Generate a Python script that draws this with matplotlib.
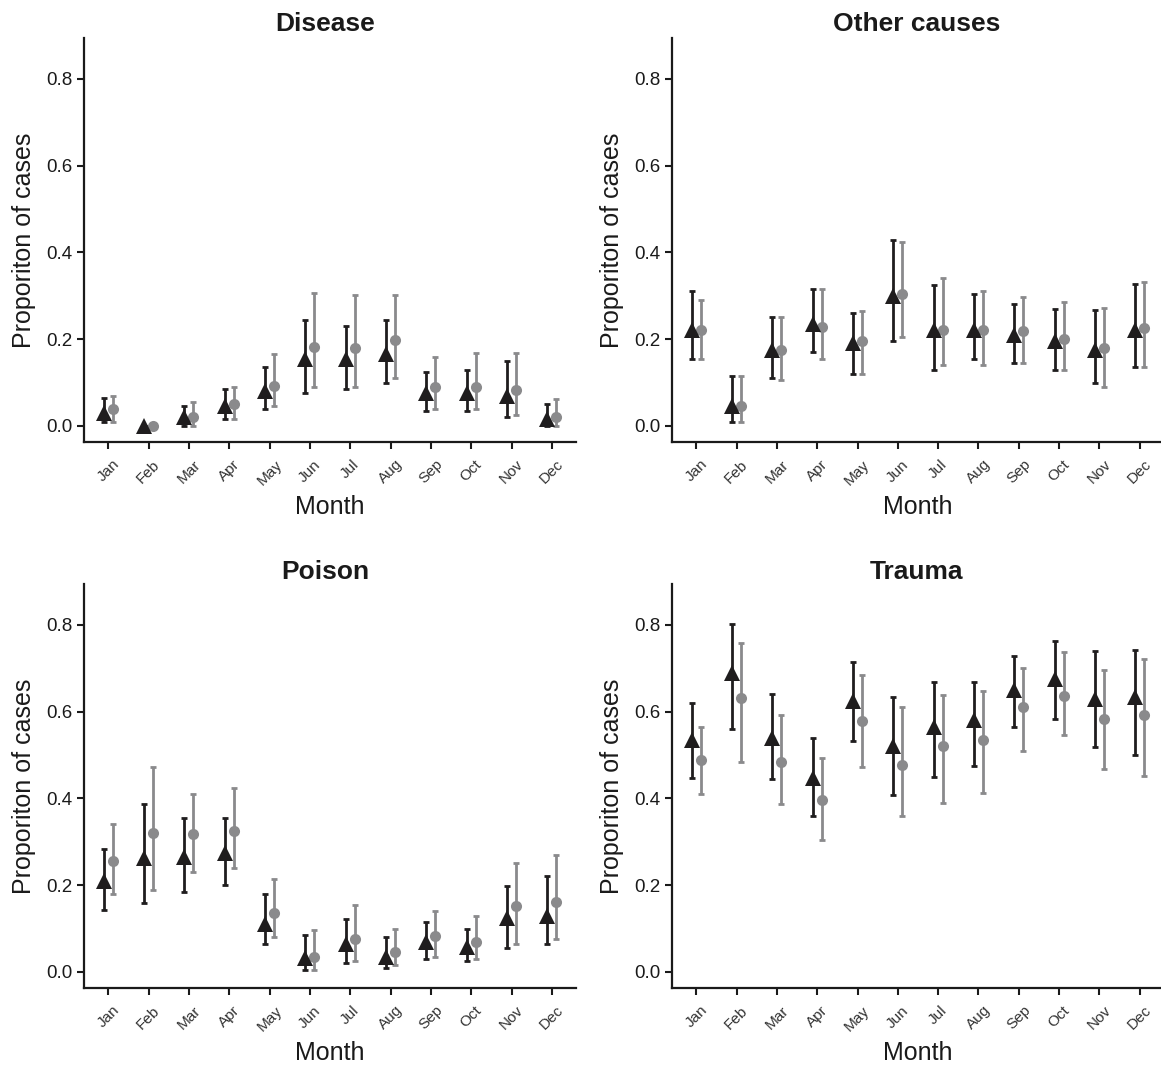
import numpy as np
import matplotlib
matplotlib.use("Agg")
from matplotlib import pyplot as plt

plt.rcParams['font.family'] = ['Liberation Sans', 'DejaVu Sans']

months = ['Jan', 'Feb', 'Mar', 'Apr', 'May', 'Jun', 'Jul', 'Aug', 'Sep', 'Oct', 'Nov', 'Dec']
panels = ['Disease', 'Other causes', 'Poison', 'Trauma']

# black triangles: estimate, lower, upper
disease_a = [0.030, 0.000, 0.020, 0.045, 0.080, 0.155, 0.155, 0.165, 0.075, 0.075, 0.070, 0.015]
disease_a_lo = [0.010, 0.000, 0.000, 0.015, 0.040, 0.075, 0.085, 0.100, 0.035, 0.035, 0.020, 0.000]
disease_a_hi = [0.065, 0.000, 0.045, 0.085, 0.135, 0.245, 0.230, 0.245, 0.125, 0.130, 0.150, 0.050]
# grey circles
disease_b = [0.038, 0.000, 0.020, 0.050, 0.092, 0.182, 0.180, 0.198, 0.090, 0.090, 0.083, 0.020]
disease_b_lo = [0.010, 0.000, 0.000, 0.015, 0.045, 0.090, 0.090, 0.110, 0.040, 0.040, 0.025, 0.000]
disease_b_hi = [0.070, 0.000, 0.055, 0.090, 0.165, 0.307, 0.302, 0.302, 0.158, 0.168, 0.168, 0.062]

other_a = [0.220, 0.045, 0.175, 0.235, 0.190, 0.300, 0.220, 0.220, 0.210, 0.195, 0.175, 0.220]
other_a_lo = [0.155, 0.010, 0.110, 0.170, 0.120, 0.195, 0.130, 0.155, 0.145, 0.130, 0.100, 0.135]
other_a_hi = [0.310, 0.115, 0.250, 0.315, 0.260, 0.428, 0.325, 0.305, 0.280, 0.270, 0.268, 0.328]
other_b = [0.220, 0.045, 0.175, 0.228, 0.195, 0.305, 0.222, 0.222, 0.218, 0.200, 0.180, 0.226]
other_b_lo = [0.155, 0.010, 0.105, 0.155, 0.120, 0.205, 0.140, 0.140, 0.145, 0.130, 0.090, 0.135]
other_b_hi = [0.290, 0.115, 0.252, 0.315, 0.265, 0.425, 0.340, 0.312, 0.298, 0.285, 0.272, 0.332]

poison_a = [0.210, 0.262, 0.265, 0.275, 0.110, 0.032, 0.065, 0.035, 0.068, 0.058, 0.125, 0.130]
poison_a_lo = [0.142, 0.158, 0.185, 0.200, 0.065, 0.005, 0.020, 0.010, 0.030, 0.025, 0.055, 0.065]
poison_a_hi = [0.283, 0.388, 0.355, 0.355, 0.180, 0.085, 0.122, 0.080, 0.115, 0.100, 0.197, 0.222]
poison_b = [0.255, 0.320, 0.318, 0.325, 0.135, 0.035, 0.075, 0.045, 0.082, 0.070, 0.153, 0.162]
poison_b_lo = [0.180, 0.190, 0.230, 0.240, 0.080, 0.005, 0.025, 0.015, 0.035, 0.030, 0.065, 0.075]
poison_b_hi = [0.340, 0.472, 0.410, 0.425, 0.215, 0.097, 0.155, 0.100, 0.140, 0.128, 0.250, 0.270]

trauma_a = [0.535, 0.690, 0.540, 0.448, 0.625, 0.520, 0.565, 0.580, 0.650, 0.675, 0.630, 0.633]
trauma_a_lo = [0.447, 0.560, 0.445, 0.360, 0.533, 0.408, 0.450, 0.475, 0.565, 0.583, 0.518, 0.500]
trauma_a_hi = [0.620, 0.802, 0.640, 0.540, 0.715, 0.633, 0.668, 0.668, 0.728, 0.762, 0.740, 0.742]
trauma_b = [0.488, 0.632, 0.485, 0.397, 0.578, 0.477, 0.520, 0.535, 0.610, 0.637, 0.583, 0.592]
trauma_b_lo = [0.410, 0.485, 0.387, 0.305, 0.472, 0.360, 0.390, 0.413, 0.510, 0.545, 0.468, 0.452]
trauma_b_hi = [0.565, 0.757, 0.593, 0.493, 0.685, 0.611, 0.638, 0.648, 0.700, 0.737, 0.697, 0.722]

series = [
    (disease_a, disease_a_lo, disease_a_hi, disease_b, disease_b_lo, disease_b_hi),
    (other_a, other_a_lo, other_a_hi, other_b, other_b_lo, other_b_hi),
    (poison_a, poison_a_lo, poison_a_hi, poison_b, poison_b_lo, poison_b_hi),
    (trauma_a, trauma_a_lo, trauma_a_hi, trauma_b, trauma_b_lo, trauma_b_hi),
]

dark = '#1f1d1e'
grey = '#8a8a8c'

fig = plt.figure(figsize=(11.61, 10.65), dpi=100)
# axes boxes in figure fractions, plus title x position and padding
boxes = [
    [0.0724, 0.585, 0.4238, 0.3793],
    [0.5788, 0.585, 0.4238, 0.3793],
    [0.0724, 0.0723, 0.4238, 0.3793],
    [0.5788, 0.0723, 0.4238, 0.3793],
]
title_x = [0.49, 0.497, 0.49, 0.497]
title_pad = [5, 5, 0.5, 0.5]

x = np.arange(1, 13)
for i, (name, box, s) in enumerate(zip(panels, boxes, series)):
    ax = fig.add_axes(box)
    a, alo, ahi, b, blo, bhi = [np.array(v) for v in s]
    ax.errorbar(x - 0.11, a, yerr=[a - alo, ahi - a], fmt='none', ecolor=dark,
                elinewidth=2.0, capsize=2.2, capthick=2.0, zorder=2)
    ax.errorbar(x + 0.11, b, yerr=[b - blo, bhi - b], fmt='none', ecolor=grey,
                elinewidth=2.0, capsize=2.2, capthick=2.0, zorder=1)
    ax.plot(x - 0.11, a, '^', color=dark, markersize=11.5, markeredgewidth=0, zorder=4)
    ax.plot(x + 0.11, b, 'o', color=grey, markersize=8, markeredgewidth=0, zorder=3)

    ax.set_xlim(0.4, 12.6)
    ax.set_ylim(-0.037, 0.894)
    ax.set_yticks([0.0, 0.2, 0.4, 0.6, 0.8])
    ax.set_yticklabels(['0.0', '0.2', '0.4', '0.6', '0.8'])
    ax.set_xticks(x)
    ax.set_xticklabels(months, rotation=45, fontsize=11)
    ax.tick_params(axis='y', labelsize=13.5, colors='#1a1a1a', width=1.5, length=5)
    ax.tick_params(axis='x', width=1.5, length=5, colors='#1a1a1a', pad=6)
    for lab in ax.get_xticklabels():
        lab.set_color('#333333')
    for sp in ['top', 'right']:
        ax.spines[sp].set_visible(False)
    for sp in ['left', 'bottom']:
        ax.spines[sp].set_linewidth(1.6)
        ax.spines[sp].set_color('#1a1a1a')
    ax.set_title(name, fontsize=19, fontweight='bold', pad=title_pad[i],
                 x=title_x[i], color='#1a1a1a')
    ax.set_xlabel('Month', fontsize=18, labelpad=5, color='#1a1a1a')
    ax.set_ylabel('Proporiton of cases', fontsize=18, labelpad=7, color='#1a1a1a')

fig.savefig('out.png', dpi=100)
